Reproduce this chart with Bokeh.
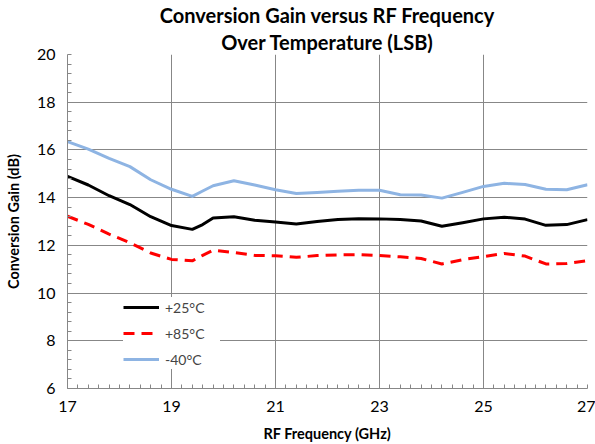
from bokeh.plotting import figure
from bokeh.models import Range1d, FixedTicker, Legend, LegendItem, Title
from bokeh.embed import file_html
from bokeh.resources import INLINE

# ---- data ----
freq_ghz = [17.0, 17.4, 17.8, 18.2, 18.6, 19.0, 19.4, 19.6, 19.8, 20.2, 20.6, 21.0,
            21.4, 21.8, 22.2, 22.6, 23.0, 23.4, 23.8, 24.2, 24.6, 25.0, 25.4,
            25.8, 26.2, 26.6, 27.0]
gain_p25 = [14.89, 14.53, 14.08, 13.71, 13.20, 12.83, 12.67, 12.87, 13.15, 13.20, 13.05, 12.98,
            12.90, 13.00, 13.08, 13.12, 13.11, 13.08, 13.02, 12.80, 12.95, 13.11, 13.18,
            13.10, 12.84, 12.87, 13.08]
gain_p85 = [13.22, 12.88, 12.47, 12.11, 11.68, 11.41, 11.35, 11.58, 11.80, 11.70, 11.58, 11.56,
            11.50, 11.57, 11.60, 11.61, 11.57, 11.52, 11.45, 11.22, 11.40, 11.53, 11.66,
            11.55, 11.22, 11.24, 11.36]
gain_m40 = [16.35, 16.03, 15.65, 15.30, 14.75, 14.35, 14.05, 14.28, 14.50, 14.71, 14.53, 14.33,
            14.17, 14.22, 14.27, 14.31, 14.31, 14.12, 14.11, 13.98, 14.22, 14.47, 14.60,
            14.55, 14.35, 14.33, 14.54]

x_major = [17, 19, 21, 23, 25, 27]
x_minor = [round(17 + 0.2 * i, 1) for i in range(51)]
y_major = [6, 8, 10, 12, 14, 16, 18, 20]
y_minor = [round(6 + 0.4 * i, 1) for i in range(36)]

title_1 = "Conversion Gain versus RF Frequency"
title_2 = "Over Temperature (LSB)"
x_label = "RF Frequency (GHz)"
y_label = "Conversion Gain (dB)"
labels = ["+25°C", "+85°C", "-40°C"]

FONT = "Lato"
GRID = "#878787"

p = figure(width=595, height=444, output_backend="svg", toolbar_location=None,
           x_range=Range1d(17, 27), y_range=Range1d(6, 20),
           min_border_left=67, min_border_right=8, min_border_top=54, min_border_bottom=54)
p.title.visible = False
p.outline_line_color = None
p.background_fill_color = "white"
p.border_fill_color = "white"

p.add_layout(Title(text=title_2, align="center", offset=-20, standoff=2,
                   text_font=FONT, text_font_size="20px", text_font_style="bold",
                   text_color="#000000"), "above")
p.add_layout(Title(text=title_1, align="center", offset=-20, standoff=0,
                   text_font=FONT, text_font_size="20px", text_font_style="bold",
                   text_color="#000000"), "above")

p.xaxis.ticker = FixedTicker(ticks=x_major, minor_ticks=x_minor)
p.yaxis.ticker = FixedTicker(ticks=y_major, minor_ticks=y_minor)
for ax in (p.xaxis, p.yaxis):
    ax.axis_line_color = GRID
    ax.major_tick_in = 0
    ax.major_tick_out = 0
    ax.minor_tick_in = 4
    ax.minor_tick_out = 0
    ax.minor_tick_line_color = GRID
    ax.major_label_text_font = FONT
    ax.major_label_text_font_size = "16px"
    ax.major_label_text_color = "#000000"
    ax.axis_label_text_font = FONT
    ax.axis_label_text_font_size = "14.5px"
    ax.axis_label_text_font_style = "bold"
    ax.axis_label_text_color = "#000000"
p.xaxis.axis_label = x_label
p.yaxis.axis_label = y_label
p.xaxis.major_label_standoff = 12
p.xaxis.axis_label_standoff = 10
p.yaxis.major_label_standoff = 12
p.yaxis.axis_label_standoff = 12

p.xgrid.ticker = FixedTicker(ticks=x_major)
p.ygrid.ticker = FixedTicker(ticks=y_major)
p.grid.grid_line_color = GRID
p.grid.grid_line_width = 1

r25 = p.line(freq_ghz, gain_p25, line_color="#000000", line_width=3, line_join="round")
r85 = p.line(freq_ghz, gain_p85, line_color="#FF0000", line_width=3, line_dash="11 7",
             line_join="round")
r40 = p.line(freq_ghz, gain_m40, line_color="#8EB4E3", line_width=3, line_join="round")

legend = Legend(items=[LegendItem(label=labels[0], renderers=[r25]),
                       LegendItem(label=labels[1], renderers=[r85]),
                       LegendItem(label=labels[2], renderers=[r40])],
                location=(56, 19), padding=4, spacing=6, glyph_width=36, glyph_height=20,
                label_height=20, label_width=55, label_standoff=6,
                label_text_font=FONT, label_text_font_size="14px",
                border_line_color=None, background_fill_color="white",
                background_fill_alpha=1.0)
p.add_layout(legend, "center")

open("out.html", "w").write(file_html(p, INLINE))
